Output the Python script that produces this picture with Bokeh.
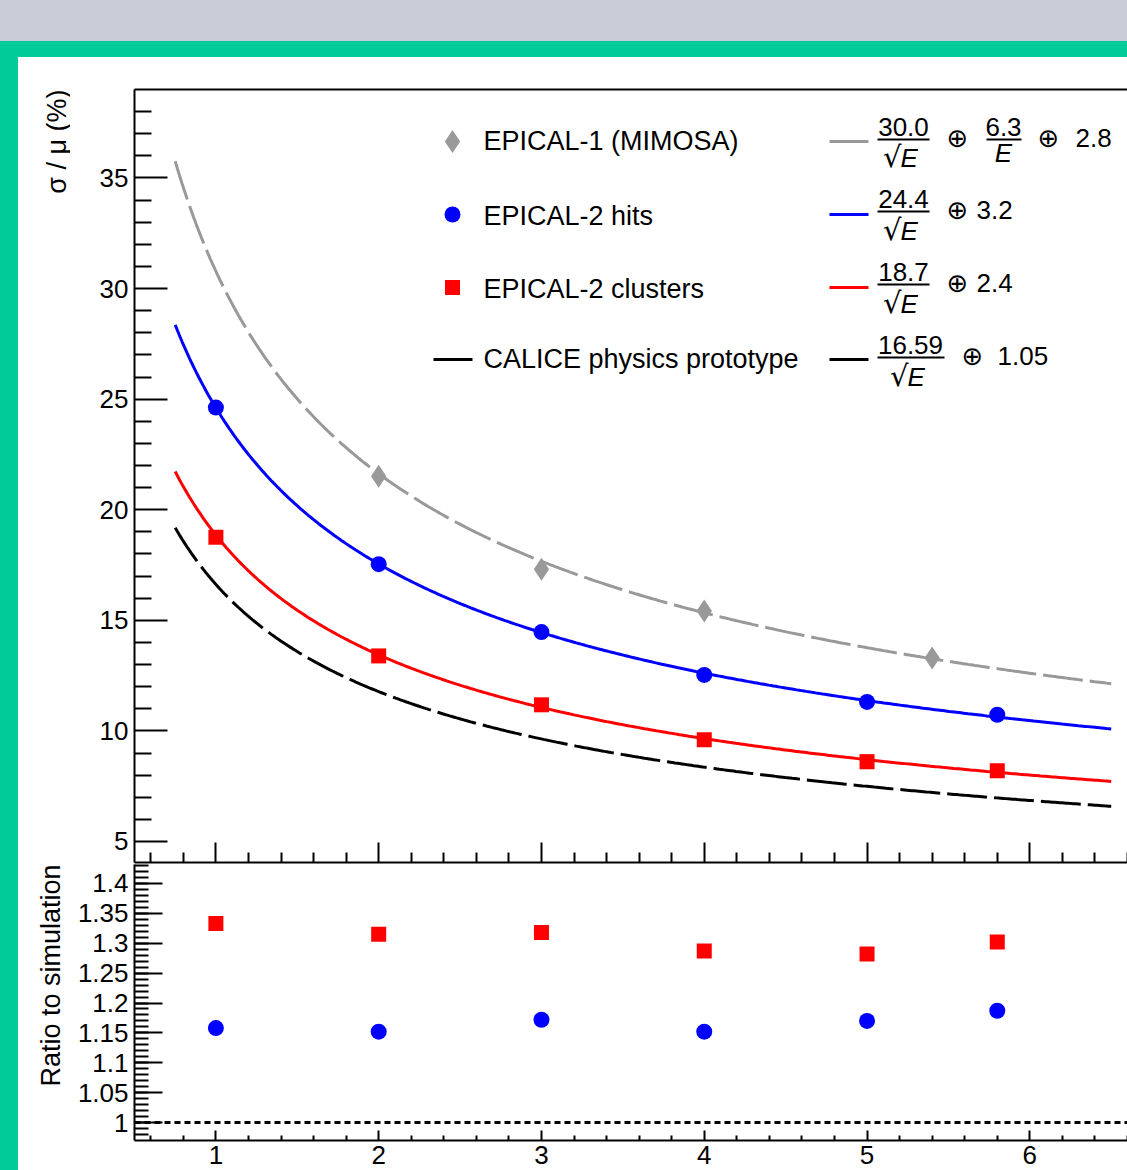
import numpy as np
from math import pi
from bokeh.plotting import figure
from bokeh.models import (Range1d, LinearAxis, FixedTicker, Label, Span, Div,
                          CustomJSTickFormatter)
from bokeh.layouts import column, row
from bokeh.embed import file_html
from bokeh.resources import INLINE

# ---------------- data ----------------
E_epical1 = [2.0, 3.0, 4.0, 5.4]
res_epical1 = [21.51, 17.31, 15.42, 13.30]
E_epical2 = [1.0, 2.0, 3.0, 4.0, 5.0, 5.8]
res_hits = [24.62, 17.54, 14.47, 12.53, 11.31, 10.73]
res_clusters = [18.76, 13.39, 11.18, 9.60, 8.61, 8.20]
ratio_hits = [1.158, 1.152, 1.172, 1.152, 1.170, 1.187]
ratio_clusters = [1.333, 1.315, 1.318, 1.287, 1.282, 1.302]

fit_names = ["EPICAL-1 (MIMOSA)", "EPICAL-2 hits", "EPICAL-2 clusters",
             "CALICE physics prototype"]
fit_stochastic = [30.0, 24.4, 18.7, 16.59]
fit_noise = [6.3, 0.0, 0.0, 0.0]
fit_constant = [2.8, 3.2, 2.4, 1.05]
fit_E_range = [0.75, 6.5]

x_ticks = [1, 2, 3, 4, 5, 6]
res_ticks = [5, 10, 15, 20, 25, 30, 35]
ratio_ticks = [1.0, 1.05, 1.1, 1.15, 1.2, 1.25, 1.3, 1.35, 1.4]
y_title_top = "\u03c3 / \u03bc (%)"
y_title_bottom = "Ratio to simulation"

# ---------------- styles / layout ----------------
FONT = "Liberation Sans"
colors = ["#999999", "#0000ff", "#ff0000", "#000000"]
dashes = ["40 7", "solid", "solid", "40 7"]
GREEN = "#00cc99"
GREYBAND = "#c7ccd7"

PAGE_W, PAGE_H = 1127, 1170
HEAD_GREY, HEAD_GREEN = 41, 16
SIDE_W, TITLE_W = 18, 52
FIG_W = PAGE_W - SIDE_W - TITLE_W
TOP_H = 807
BOT_H = PAGE_H - HEAD_GREY - HEAD_GREEN - TOP_H
LEFT = 134 - SIDE_W - TITLE_W
TOP_B, TOP_BB = 32, 2

X_RANGE = (0.5, 6.6)
TOP_RANGE = (4.05, 39.0)
BOT_RANGE = (0.97, 1.4317)

x_minor = [round(0.6 + 0.2 * i, 1) for i in range(31)]
x_minor = [v for v in x_minor if v not in x_ticks]
res_minor = [v for v in range(5, 39) if v not in res_ticks]
ratio_minor = [round(0.98 + 0.01 * i, 2) for i in range(46)]


def no_labels():
    return CustomJSTickFormatter(code="return ''")


def bare(fig):
    fig.outline_line_color = None
    fig.xgrid.visible = False
    fig.ygrid.visible = False


AX = dict(major_tick_out=0, minor_tick_out=0, axis_line_width=2,
          major_tick_line_width=2, minor_tick_line_width=2)

xr = Range1d(*X_RANGE)

# ---------------- top panel ----------------
top = figure(width=FIG_W, height=TOP_H, x_range=xr, y_range=Range1d(*TOP_RANGE),
             output_backend="svg", toolbar_location=None,
             x_axis_location=None, y_axis_location=None,
             min_border_left=LEFT, min_border_right=0, min_border_top=TOP_B,
             min_border_bottom=TOP_BB)
bare(top)

top.add_layout(LinearAxis(ticker=FixedTicker(ticks=res_ticks, minor_ticks=res_minor),
                          major_tick_in=33, minor_tick_in=17,
                          major_label_text_font=FONT, major_label_text_font_size="26px",
                          major_label_text_color="black", major_label_standoff=6, **AX),
               "left")
top.add_layout(LinearAxis(ticker=FixedTicker(ticks=x_ticks, minor_ticks=x_minor),
                          major_tick_in=20, minor_tick_in=10,
                          formatter=no_labels(), major_label_text_font_size="1px",
                          major_label_standoff=0, **AX), "below")
top.add_layout(LinearAxis(ticker=FixedTicker(ticks=[]), major_tick_in=0, minor_tick_in=0,
                          formatter=no_labels(), major_label_text_font_size="1px",
                          major_label_standoff=0, **AX), "above")

# fit curves (the functions whose parameters are printed in the legend)
E = np.linspace(fit_E_range[0], fit_E_range[1], 400)
for a, b, c, col, dash in zip(fit_stochastic, fit_noise, fit_constant, colors, dashes):
    res = np.sqrt((a / np.sqrt(E)) ** 2 + (b / E) ** 2 + c ** 2)
    top.line(E, res, line_color=col, line_width=3, line_dash=dash)

top.scatter(E_epical1, res_epical1, marker="diamond", size=23,
            fill_color=colors[0], line_color=None)
top.scatter(E_epical2, res_hits, marker="circle", size=16,
            fill_color=colors[1], line_color=None)
top.scatter(E_epical2, res_clusters, marker="square", size=15,
            fill_color=colors[2], line_color=None)

# page-pixel -> data helpers for placing the legend
FR_L = 134
FR_T = HEAD_GREY + HEAD_GREEN + TOP_B
FR_W = FIG_W - LEFT
FR_H_TOP = TOP_H - TOP_B - TOP_BB


def tx(px):
    return X_RANGE[0] + (px - FR_L) * (X_RANGE[1] - X_RANGE[0]) / FR_W


def ty(py):
    return TOP_RANGE[1] - (py - FR_T) * (TOP_RANGE[1] - TOP_RANGE[0]) / FR_H_TOP


def txt(fig, x, y, s, align="left", size="27px", italic=False, font=FONT, angle=0.0,
        baseline="middle"):
    fig.add_layout(Label(x=x, y=y, text=s, text_align=align, text_baseline=baseline,
                         text_font=font, text_font_size=size, angle=angle,
                         text_font_style="italic" if italic else "normal",
                         text_color="black"))


# legend
row_y = [141, 214, 287, 359]
text_y = [140, 215, 288, 358]
num_y = [126, 198, 271, 344]
bar_y = [139, 211, 284, 357]
den_y = [157, 230, 303, 376]
op_y = [137, 209, 282, 355]
num_cx = [903, 903, 903, 910]
bar_x = [(877, 929), (877, 929), (877, 929), (877, 944)]
op_x = [957, 957, 957, 972]
const_x = [1075, 976, 976, 997]

top.scatter([tx(452)], [ty(row_y[0])], marker="diamond", size=23,
            fill_color=colors[0], line_color=None)
top.scatter([tx(452)], [ty(row_y[1])], marker="circle", size=16,
            fill_color=colors[1], line_color=None)
top.scatter([tx(452)], [ty(row_y[2])], marker="square", size=15,
            fill_color=colors[2], line_color=None)
top.segment(x0=[tx(433)], y0=[ty(row_y[3])], x1=[tx(472)], y1=[ty(row_y[3])],
            line_color=colors[3], line_width=3)

for i in range(4):
    txt(top, tx(483), ty(text_y[i]), fit_names[i])
    top.segment(x0=[tx(829)], y0=[ty(row_y[i])], x1=[tx(868)], y1=[ty(row_y[i])],
                line_color=colors[i], line_width=3)
    txt(top, tx(num_cx[i]), ty(num_y[i]), str(fit_stochastic[i]), align="center",
        size="26px")
    top.segment(x0=[tx(bar_x[i][0])], y0=[ty(bar_y[i])], x1=[tx(bar_x[i][1])],
                y1=[ty(bar_y[i])], line_color="black", line_width=2)
    txt(top, tx(num_cx[i] - 2), ty(den_y[i] - 1), "\u221a", align="right", size="29px",
        font="DejaVu Sans")
    txt(top, tx(num_cx[i] - 3), ty(den_y[i]), "E", italic=True, size="26px")
    txt(top, tx(op_x[i]), ty(op_y[i]), "\u2295", align="center", size="26px",
        font="DejaVu Sans")
    if fit_noise[i] > 0:
        txt(top, tx(1003), ty(num_y[i]), str(fit_noise[i]), align="center", size="26px")
        top.segment(x0=[tx(986)], y0=[ty(bar_y[i])], x1=[tx(1021)], y1=[ty(bar_y[i])],
                    line_color="black", line_width=2)
        txt(top, tx(1003), ty(152), "E", align="center", italic=True, size="26px")
        txt(top, tx(1048), ty(op_y[i]), "\u2295", align="center", size="26px",
            font="DejaVu Sans")
    txt(top, tx(const_x[i]), ty(op_y[i]), str(fit_constant[i]), size="26px")

# ---------------- bottom panel ----------------
bot = figure(width=FIG_W, height=BOT_H, x_range=xr, y_range=Range1d(*BOT_RANGE),
             output_backend="svg", toolbar_location=None,
             x_axis_location=None, y_axis_location=None,
             min_border_left=LEFT, min_border_right=0, min_border_top=0,
             min_border_bottom=30)
bare(bot)

bot.add_layout(LinearAxis(ticker=FixedTicker(ticks=ratio_ticks, minor_ticks=ratio_minor),
                          major_tick_in=28, minor_tick_in=14,
                          major_label_text_font=FONT, major_label_text_font_size="26px",
                          major_label_text_color="black", major_label_standoff=6,
                          formatter=CustomJSTickFormatter(
                              code="return tick.toFixed(2).replace(/0+$/, '').replace(/\\.$/, '')"),
                          **AX), "left")
bot.add_layout(LinearAxis(ticker=FixedTicker(ticks=x_ticks, minor_ticks=x_minor),
                          major_tick_in=10, minor_tick_in=5,
                          major_label_text_font=FONT, major_label_text_font_size="26px",
                          major_label_text_color="black", major_label_standoff=5, **AX),
               "below")

bot.add_layout(Span(location=1.0, dimension="width", line_color="black",
                    line_width=3, line_dash="6 4"))
bot.scatter(E_epical2, ratio_clusters, marker="square", size=15,
            fill_color=colors[2], line_color=None)
bot.scatter(E_epical2, ratio_hits, marker="circle", size=16,
            fill_color=colors[1], line_color=None)

# ---------------- y-axis titles (own narrow figure, page-pixel coordinates) ----------------
tfig = figure(width=TITLE_W, height=TOP_H + BOT_H,
              x_range=Range1d(SIDE_W, SIDE_W + TITLE_W),
              y_range=Range1d(PAGE_H, HEAD_GREY + HEAD_GREEN),
              output_backend="svg", toolbar_location=None,
              x_axis_location=None, y_axis_location=None,
              min_border_left=0, min_border_right=0, min_border_top=0, min_border_bottom=0)
bare(tfig)
txt(tfig, 56, FR_T, y_title_top, align="right", size="27px", angle=pi / 2)
txt(tfig, 50, FR_T + TOP_H - TOP_B, y_title_bottom, align="right", size="27px",
    angle=pi / 2)

# ---------------- page chrome ----------------
band_grey = Div(width=PAGE_W, height=HEAD_GREY, margin=0,
                styles={"background-color": GREYBAND})
band_green = Div(width=PAGE_W, height=HEAD_GREEN, margin=0,
                 styles={"background-color": GREEN})
side_green = Div(width=SIDE_W, height=TOP_H + BOT_H, margin=0,
                 styles={"background-color": GREEN})

p = column(band_grey, band_green,
           row(side_green, tfig, column(top, bot, spacing=0), spacing=0),
           spacing=0)

open("out.html", "w").write(file_html(p, INLINE))
